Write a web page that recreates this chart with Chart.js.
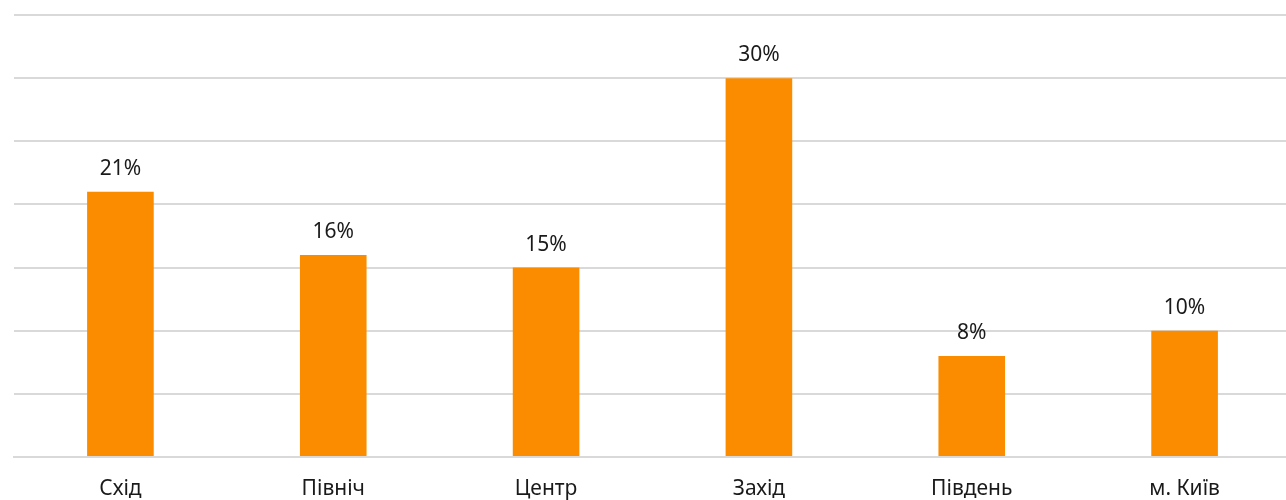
<!DOCTYPE html>
<html>
<head>
<meta charset="utf-8">
<script src="https://cdn.jsdelivr.net/npm/chart.js@4/dist/chart.umd.min.js"></script>
<style>
  html, body { margin: 0; padding: 0; background: #fff; overflow: hidden; }
  #wrap { width: 1291px; height: 500px; }
</style>
</head>
<body>
<div id="wrap"><canvas id="regions"></canvas></div>
<script>
  var regions = ['Схід', 'Північ', 'Центр', 'Захід', 'Південь', 'м. Київ'];
  var shares = [21, 16, 15, 30, 8, 10];
  var yTicks = [0, 5, 10, 15, 20, 25, 30, 35];

  var fontFamily = '"Noto Sans", "DejaVu Sans", sans-serif';

  // value labels above the bars
  var valueLabels = {
      id: 'valueLabels',
      afterDatasetsDraw: function (chart) {
          var ctx = chart.ctx;
          var meta = chart.getDatasetMeta(0);
          ctx.save();
          ctx.font = '21px ' + fontFamily;
          ctx.fillStyle = '#1a1a1a';
          ctx.textAlign = 'center';
          ctx.textBaseline = 'alphabetic';
          meta.data.forEach(function (bar, i) {
              ctx.fillText(shares[i] + '%', bar.x, bar.y - 17);
          });
          ctx.restore();
      }
  };

  var ctx = document.getElementById('regions').getContext('2d');
  var myChart = new Chart(ctx, {
      type: 'bar',
      data: {
          labels: regions,
          datasets: [{
              data: shares,
              backgroundColor: '#fb8c00',
              borderWidth: 0,
              categoryPercentage: 1,
              barPercentage: 0.313
          }]
      },
      options: {
          responsive: true,
          maintainAspectRatio: false,
          animation: false,
          layout: { padding: { left: 14, right: 0, top: 15, bottom: 0 } },
          plugins: {
              legend: { display: false },
              tooltip: { enabled: false }
          },
          scales: {
              x: {
                  grid: { display: false, drawTicks: false },
                  border: { display: true, color: '#d9d9d9', width: 2 },
                  afterFit: function (axis) {
                      axis.height = 43;
                  },
                  ticks: {
                      padding: 19,
                      color: '#1a1a1a',
                      font: { family: fontFamily, size: 21 },
                      maxRotation: 0
                  }
              },
              y: {
                  min: yTicks[0],
                  max: yTicks[yTicks.length - 1],
                  afterBuildTicks: function (axis) {
                      axis.ticks = yTicks.map(function (v) { return { value: v }; });
                  },
                  grid: { color: '#d9d9d9', lineWidth: 2, drawTicks: false },
                  border: { display: false },
                  ticks: { display: false }
              }
          }
      },
      plugins: [valueLabels]
  });
</script>
</body>
</html>
